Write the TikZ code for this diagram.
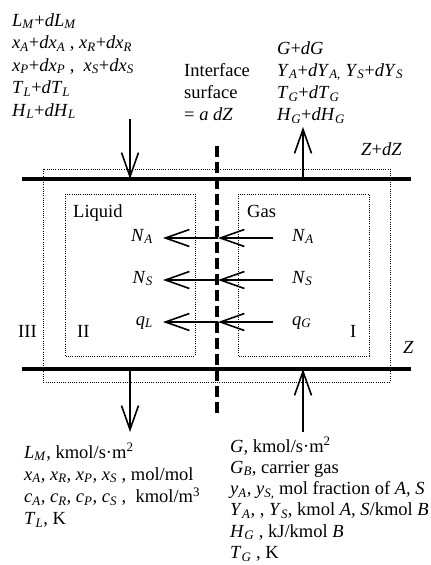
\documentclass[tikz,border=0pt]{standalone}
\usepackage{fontspec}
\setmainfont{Liberation Serif}
\usetikzlibrary{arrows.meta}
\newcommand{\vs}[2]{\textit{#1}\textsubscript{\textit{#2}}}
\newcommand{\dv}[2]{\textit{d}\vs{#1}{#2}}
\tikzset{
  wall/.style={line width=4pt},
  zone/.style={draw,line width=0.9pt,dash pattern=on 1pt off 1.2pt},
  iface/.style={line width=3.5pt,dash pattern=on 11pt off 5pt},
  flow/.style={-{Straight Barb[length=24pt,width=17pt,line width=1.6pt]},line width=1.6pt},
  lbl/.style={inner sep=0pt,align=left,font=\fontsize{18.5}{22.3}\selectfont},
}
\begin{document}
\begin{tikzpicture}[x=1pt,y=-1pt]
\useasboundingbox (0,0) rectangle (431,565);
\coordinate (tw0) at (22,179); \coordinate (tw1) at (411,179);
\coordinate (bw0) at (22,369); \coordinate (bw1) at (411,369);
\draw[wall] (tw0) -- (tw1); \draw[wall] (bw0) -- (bw1);
\draw[zone] (43,169) rectangle (390,382);
\draw[zone] (65,194) rectangle (195,356);
\draw[zone] (238,194) rectangle (369,356);
\coordinate (if0) at (217,146); \coordinate (if1) at (217,418);
\draw[iface] (if0) -- (if1);
\node[lbl,anchor=north west,font=\fontsize{18.5}{22.5}\selectfont] (lin) at (12,13) {\vs{L}{M}+\dv{L}{M}\\
  \vs{x}{A}+\dv{x}{A} , \vs{x}{R}+\dv{x}{R}\\
  \vs{x}{P}+\dv{x}{P} ,\ \ \vs{x}{S}+\dv{x}{S}\\
  \vs{T}{L}+\dv{T}{L}\\
  \vs{H}{L}+\dv{H}{L}};
\node[lbl,anchor=north west] (surf) at (184,63) {Interface\\surface\\= \textit{a dZ}};
\node[lbl,anchor=north west] (gout) at (277,41) {\textit{G}+\textit{dG}\\
  \vs{Y}{A}+\dv{Y}{A,} \vs{Y}{S}+\dv{Y}{S}\\
  \vs{T}{G}+\dv{T}{G}\\
  \vs{H}{G}+\dv{H}{G}};
\node[lbl,anchor=north west] (lout) at (24,443) {\vs{L}{M}, kmol/s·m\textsuperscript{2}\\
  \vs{x}{A}\textit{,} \vs{x}{R}\textit{,} \vs{x}{P}\textit{,} \vs{x}{S} , mol/mol\\
  \vs{c}{A}\textit{,} \vs{c}{R}\textit{,} \vs{c}{P}\textit{,} \vs{c}{S} ,\ \ kmol/m\textsuperscript{3}\\
  \vs{T}{L}, K};
\node[lbl,anchor=north west,font=\fontsize{18.5}{21.3}\selectfont] (gin) at (230,437) {\textit{G,} kmol/s·m\textsuperscript{2}\\
  \vs{G}{B}, carrier gas\\
  \vs{y}{A}\textit{,} \vs{y}{S,} mol fraction of \textit{A, S}\\
  \vs{Y}{A}\textit{,} , \vs{Y}{S}, kmol \textit{A, S}/kmol \textit{B}\\
  \vs{H}{G} , kJ/kmol \textit{B}\\
  \vs{T}{G} , K};
\node[lbl,anchor=base west] (liq) at (73,217) {Liquid};
\node[lbl,anchor=base west] (gas) at (247,217) {Gas};
\node[lbl,anchor=base west] (z3) at (18,337) {III};
\node[lbl,anchor=base west] (z2) at (77,337) {II};
\node[lbl,anchor=base west] (z1) at (350,337) {I};
\node[lbl,anchor=base west] (ztop) at (361,155) {\textit{Z}+\textit{dZ}};
\node[lbl,anchor=base west] (zbot) at (403,353) {\textit{Z}};
\coordinate (l0) at (130,119); \coordinate (l1) at (130,179);
\coordinate (l2) at (130,369); \coordinate (l3) at (130,432);
\coordinate (g0) at (303,432); \coordinate (g1) at (303,369);
\coordinate (g2) at (303,179); \coordinate (g3) at (303,127);
\draw[flow] (l0) -- (l1); \draw[flow] (l2) -- (l3);
\draw[flow] (g0) -- (g1); \draw[flow] (g2) -- (g3);
\foreach \y/\n/\a/\b in {238/na/\vs{N}{A}/\vs{N}{A},280/ns/\vs{N}{S}/\vs{N}{S},322/q/\vs{q}{L}/\vs{q}{G}}{
  \coordinate (\n g) at (273,\y); \coordinate (\n i) at (218,\y); \coordinate (\n l) at (163,\y);
  \draw[flow] (\n g) -- (\n i); \draw[flow] (\n i) -- (\n l);
  \node[lbl,anchor=base east] (\n L) at (153,\y+3) {\a};
  \node[lbl,anchor=base west] (\n G) at (292,\y+3) {\b};
}
\end{tikzpicture}
\end{document}
